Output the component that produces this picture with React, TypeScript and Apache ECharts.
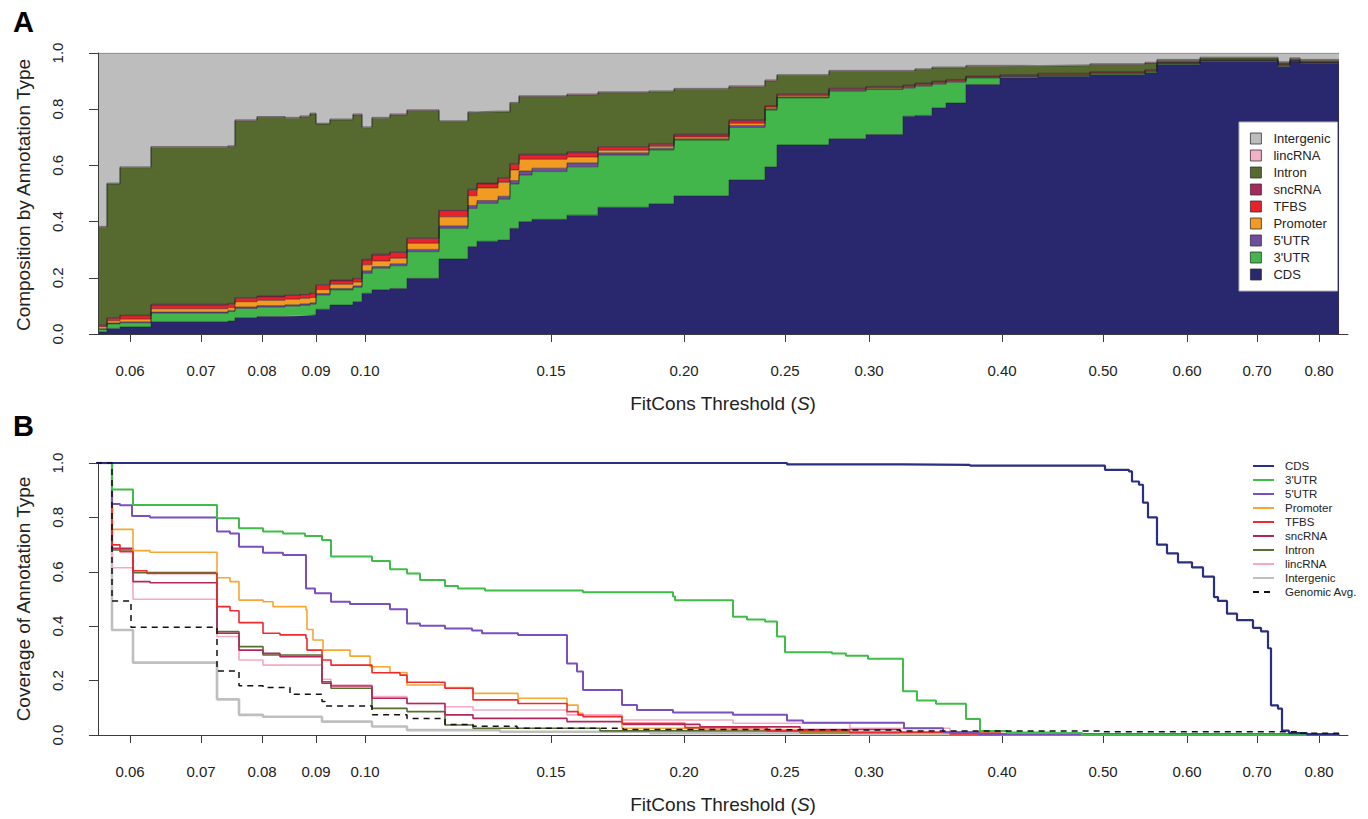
import React, { useEffect, useRef } from 'react';
import * as echarts from 'echarts';

// ---- x axis: genomic rank scale with FitCons threshold tick labels ----
const TICK_POS = [32, 103, 164, 218, 267, 453, 586, 687, 771, 904, 1005, 1089, 1159, 1221];
const TICK_LABELS = ['0.06', '0.07', '0.08', '0.09', '0.10', '0.15', '0.20', '0.25', '0.30', '0.40', '0.50', '0.60', '0.70', '0.80'];

// ---- Panel A: composition by annotation type (stacked fractions) ----
const RANK_A = [1, 9, 22, 53, 130, 137, 159, 187, 202, 212, 218, 232, 255, 264, 274, 292, 309, 341, 370, 379, 400, 412, 421, 434, 469, 500, 551, 576, 631, 667, 679, 731, 768, 805, 817, 834, 848, 868, 902, 940, 992, 1047, 1059, 1102, 1180, 1192, 1202, 1241];
const CDS_A = [.008, .020, .025, .043, .046, .058, .062, .064, .066, .068, .088, .103, .115, .145, .157, .162, .198, .267, .311, .330, .335, .376, .400, .408, .423, .451, .463, .491, .548, .595, .673, .695, .710, .775, .778, .805, .822, .888, .911, .917, .923, .930, .959, .970, .952, .968, .962, .962];
const UTR3_A = [.008, .016, .015, .031, .034, .033, .034, .035, .036, .038, .051, .054, .051, .071, .077, .081, .095, .109, .136, .135, .145, .158, .166, .170, .172, .186, .192, .199, .187, .202, .167, .169, .160, .100, .104, .084, .074, .023, .004, .003, .003, .003, .003, .002, .004, .002, .002, .002];
const UTR5_A = [.003, .003, .003, .004, .004, .005, .005, .005, .005, .005, .005, .005, .005, .009, .006, .007, .008, .009, .010, .010, .010, .012, .014, .012, .014, .008, .006, .005, .007, .005, .004, .003, .003, .003, .003, .003, .003, .002, .002, .002, .002, .002, .001, .001, .001, .001, .001, .001];
const PROM_A = [.007, .008, .010, .012, .010, .019, .019, .020, .020, .019, .014, .015, .014, .021, .020, .020, .022, .032, .035, .045, .050, .038, .042, .032, .021, .009, .007, .006, .008, .005, .004, .003, .003, .003, .003, .003, .002, .002, .002, .002, .002, .002, .001, .001, .002, .001, .001, .001];
const TFBS_A = [.005, .009, .012, .013, .012, .012, .012, .013, .013, .014, .015, .012, .012, .017, .021, .020, .017, .022, .020, .014, .014, .020, .015, .015, .015, .010, .007, .007, .009, .004, .005, .004, .003, .003, .003, .003, .003, .002, .002, .002, .002, .002, .002, .001, .002, .001, .001, .001];
const SNC_A = [.002, .002, .002, .003, .003, .003, .003, .003, .003, .003, .003, .003, .003, .003, .003, .003, .003, .003, .003, .003, .003, .003, .003, .003, .003, .003, .003, .003, .003, .002, .002, .002, .002, .002, .002, .002, .002, .002, .002, .002, .002, .002, .001, .001, .001, .001, .001, .001];
const INTRON_A = [.347, .476, .525, .558, .558, .629, .636, .628, .630, .636, .571, .570, .580, .468, .484, .487, .452, .314, .273, .253, .233, .214, .205, .205, .203, .192, .184, .160, .118, .088, .065, .059, .054, .049, .048, .047, .041, .034, .030, .027, .025, .023, .007, .006, .004, .006, .006, .006];
const LINC_A = [.003, .003, .003, .003, .003, .003, .003, .003, .003, .003, .003, .003, .003, .003, .003, .003, .003, .003, .003, .003, .003, .003, .003, .003, .003, .003, .003, .003, .003, .003, .003, .003, .003, .003, .003, .003, .003, .003, .003, .003, .003, .003, .003, .003, .003, .003, .003, .003];
const INTER_A = [.617, .463, .405, .333, .330, .238, .226, .229, .224, .214, .250, .235, .217, .263, .229, .217, .202, .241, .209, .207, .207, .176, .152, .152, .146, .138, .135, .126, .117, .096, .077, .062, .062, .062, .056, .050, .050, .044, .044, .042, .038, .033, .023, .015, .031, .017, .023, .023];

// ---- Panel B: coverage of annotation type, [rank, coverage] ----
const CDS_B = [[-13, 1], [689, 0.995], [806, 0.993], [872, 0.99], [1007, 0.975], [1031, 0.969], [1034, 0.932], [1041, 0.92], [1045, 0.854], [1050, 0.80], [1059, 0.70], [1069, 0.668], [1080, 0.635], [1094, 0.616], [1105, 0.582], [1116, 0.507], [1120, 0.493], [1129, 0.446], [1139, 0.422], [1155, 0.394], [1163, 0.381], [1170, 0.319], [1173, 0.109], [1180, 0.097], [1184, 0.016], [1191, 0.007], [1209, 0.002], [1241, 0.002]];
const UTR3_B = [[-13, 1], [14, 0.903], [35, 0.846], [119, 0.797], [141, 0.76], [165, 0.748], [185, 0.741], [207, 0.732], [224, 0.717], [233, 0.656], [274, 0.64], [292, 0.609], [309, 0.594], [322, 0.57], [347, 0.548], [360, 0.539], [387, 0.531], [485, 0.525], [575, 0.509], [577, 0.495], [635, 0.435], [649, 0.425], [667, 0.417], [679, 0.362], [687, 0.304], [734, 0.30], [748, 0.291], [770, 0.28], [805, 0.161], [819, 0.127], [838, 0.115], [868, 0.059], [882, 0.015], [909, 0.007], [984, 0.001], [1241, 0.001]];
const UTR5_B = [[-13, 1], [14, 0.849], [22, 0.845], [34, 0.805], [52, 0.80], [119, 0.748], [132, 0.741], [141, 0.692], [165, 0.67], [185, 0.662], [208, 0.539], [217, 0.521], [233, 0.49], [252, 0.482], [292, 0.462], [309, 0.41], [322, 0.402], [347, 0.392], [374, 0.384], [384, 0.374], [420, 0.368], [469, 0.263], [479, 0.233], [485, 0.165], [524, 0.11], [539, 0.092], [575, 0.083], [635, 0.074], [689, 0.053], [705, 0.045], [806, 0.025], [845, 0.01], [881, 0.003], [1241, 0.001]];
const PROM_B = [[-13, 1], [14, 0.756], [35, 0.678], [52, 0.672], [119, 0.578], [132, 0.564], [141, 0.496], [165, 0.49], [175, 0.472], [208, 0.46], [209, 0.388], [215, 0.349], [225, 0.312], [252, 0.29], [272, 0.251], [292, 0.23], [309, 0.184], [347, 0.174], [375, 0.153], [420, 0.135], [469, 0.11], [480, 0.08], [485, 0.071], [524, 0.025], [602, 0.02], [702, 0.012], [802, 0.006], [902, 0.002], [1241, 0.001]];
const TFBS_B = [[-13, 1], [14, 0.699], [22, 0.674], [35, 0.604], [49, 0.594], [119, 0.472], [132, 0.457], [141, 0.413], [165, 0.374], [182, 0.368], [208, 0.355], [209, 0.312], [224, 0.276], [233, 0.257], [274, 0.229], [302, 0.22], [309, 0.194], [347, 0.172], [375, 0.129], [420, 0.116], [469, 0.086], [480, 0.074], [485, 0.067], [524, 0.043], [587, 0.027], [669, 0.015], [752, 0.01], [852, 0.004], [1241, 0.001]];
const SNC_B = [[-13, 1], [14, 0.686], [35, 0.564], [52, 0.56], [119, 0.374], [141, 0.312], [165, 0.30], [182, 0.288], [224, 0.19], [233, 0.18], [274, 0.135], [309, 0.116], [347, 0.074], [375, 0.061], [469, 0.049], [524, 0.039], [602, 0.03], [702, 0.02], [802, 0.01], [902, 0.003], [1241, 0.001]];
const INTRON_B = [[-13, 1], [14, 0.68], [35, 0.597], [119, 0.38], [141, 0.325], [165, 0.294], [224, 0.196], [233, 0.172], [274, 0.098], [309, 0.086], [347, 0.037], [375, 0.025], [502, 0.015], [702, 0.008], [902, 0.003], [1241, 0.001]];
const LINC_B = [[-13, 1], [14, 0.615], [35, 0.499], [119, 0.362], [141, 0.276], [165, 0.257], [224, 0.205], [233, 0.184], [274, 0.141], [309, 0.116], [347, 0.104], [375, 0.092], [469, 0.074], [524, 0.055], [635, 0.043], [752, 0.025], [852, 0.012], [952, 0.004], [1241, 0.001]];
const INTER_B = [[-13, 1], [14, 0.386], [35, 0.266], [119, 0.131], [141, 0.074], [165, 0.067], [224, 0.049], [274, 0.031], [309, 0.018], [402, 0.012], [552, 0.007], [752, 0.003], [1241, 0.001]];
const GENOME_B = [[-13, 1], [14, 0.493], [33, 0.396], [119, 0.235], [141, 0.181], [165, 0.175], [192, 0.15], [224, 0.123], [227, 0.107], [274, 0.074], [309, 0.061], [347, 0.039], [375, 0.032], [419, 0.025], [525, 0.02], [669, 0.018], [802, 0.015], [1002, 0.012], [1202, 0.006], [1241, 0.006]];

const FONT = "'Liberation Sans', Arial, Helvetica, sans-serif";

export default function App() {
  const ref = useRef<HTMLDivElement>(null);
  useEffect(() => {
    const chart = echarts.init(ref.current!, null, { renderer: 'svg' });

    const areaNames = ['CDS', "3'UTR", "5'UTR", 'Promoter', 'TFBS', 'sncRNA', 'Intron', 'lincRNA', 'Intergenic'];
    const areaVals = [CDS_A, UTR3_A, UTR5_A, PROM_A, TFBS_A, SNC_A, INTRON_A, LINC_A, INTER_A];
    const areaColors = ['#29286f', '#42b64a', '#6e4c9e', '#f29b22', '#e8212a', '#a8285b', '#566a30', '#f4b0c6', '#bdbdbd'];

    // data stored as [fraction, rank] so the library stacks the fraction dimension
    const seriesA = areaNames.map((name, k) => ({
      name,
      type: 'line',
      step: 'end',
      stack: 'comp',
      xAxisIndex: 0,
      yAxisIndex: 0,
      encode: { x: 1, y: 0 },
      symbol: 'none',
      silent: true,
      color: areaColors[k],
      itemStyle: { color: areaColors[k] },
      lineStyle: { width: 0.7, color: 'rgba(35,35,35,0.75)' },
      areaStyle: { color: areaColors[k], opacity: 1 },
      data: RANK_A.map((x, i) => [areaVals[k][i], x]),
    }));

    // drawing order (bottom to top)
    const covDefs = [
      { name: 'Intergenic', data: INTER_B, color: '#bfbfbf', width: 2.6 },
      { name: 'lincRNA', data: LINC_B, color: '#f5a9c2', width: 1.6 },
      { name: 'Intron', data: INTRON_B, color: '#557030', width: 1.6 },
      { name: 'sncRNA', data: SNC_B, color: '#b2285d', width: 1.6 },
      { name: 'Promoter', data: PROM_B, color: '#f8a630', width: 1.6 },
      { name: 'TFBS', data: TFBS_B, color: '#ee2a2e', width: 1.6 },
      { name: "5'UTR", data: UTR5_B, color: '#7a4fbe', width: 2 },
      { name: "3'UTR", data: UTR3_B, color: '#3fbd48', width: 2 },
      { name: 'CDS', data: CDS_B, color: '#2b2f80', width: 2.2 },
      { name: 'Genomic Avg.', data: GENOME_B, color: '#111111', width: 1.5, dash: [6, 5] },
    ];
    const legendOrderB = ['CDS', "3'UTR", "5'UTR", 'Promoter', 'TFBS', 'sncRNA', 'Intron', 'lincRNA', 'Intergenic', 'Genomic Avg.'];
    const seriesB = covDefs.map((d) => ({
      name: 'B:' + d.name,
      type: 'line',
      step: 'end',
      xAxisIndex: 1,
      yAxisIndex: 1,
      symbol: 'none',
      silent: true,
      clip: false,
      color: d.color,
      itemStyle: { color: d.color },
      lineStyle: { width: d.width, color: d.color, type: d.dash ? d.dash : 'solid' },
      data: d.data,
    }));

    const axisColor = '#3c3c3c';
    const xAxisBase = (gridIndex: number, offset: number) => ({
      type: 'value',
      gridIndex,
      min: 0,
      max: 1250,
      offset,
      axisLine: { show: true, lineStyle: { color: axisColor, width: 1 } },
      axisTick: { show: true, customValues: TICK_POS, length: 8, lineStyle: { color: axisColor } },
      axisLabel: {
        customValues: TICK_POS,
        formatter: (v: number) => {
          const i = TICK_POS.indexOf(Math.round(v));
          return i >= 0 ? TICK_LABELS[i] : '';
        },
        fontSize: 15,
        fontFamily: FONT,
        color: '#222',
        margin: 20,
      },
      splitLine: { show: false },
    });
    const yAxisBase = (gridIndex: number) => ({
      type: 'value',
      gridIndex,
      min: 0,
      max: 1,
      interval: 0.2,
      offset: 13,
      axisLine: { show: true, lineStyle: { color: axisColor, width: 1 } },
      axisTick: { show: true, length: 9, lineStyle: { color: axisColor } },
      axisLabel: {
        rotate: 90,
        formatter: (v: number) => v.toFixed(1),
        fontSize: 15,
        fontFamily: FONT,
        color: '#222',
        margin: 20,
      },
      splitLine: { show: false },
    });

    const option = {
      animation: false,
      backgroundColor: '#ffffff',
      textStyle: { fontFamily: FONT },
      grid: [
        { left: 98, right: 20, top: 53, height: 281 },
        { left: 98, right: 20, top: 463, height: 272 },
      ],
      xAxis: [xAxisBase(0, 9), xAxisBase(1, 9)],
      yAxis: [yAxisBase(0), yAxisBase(1)],
      legend: [
        {
          data: ['Intergenic', 'lincRNA', 'Intron', 'sncRNA', 'TFBS', 'Promoter', "5'UTR", "3'UTR", 'CDS'],
          orient: 'vertical',
          left: 1239,
          top: 122,
          icon: 'rect',
          itemWidth: 11,
          itemHeight: 11,
          itemGap: 4,
          padding: [10, 7, 10, 11],
          backgroundColor: '#ffffff',
          borderColor: '#b0b0b0',
          borderWidth: 1,
          selectedMode: false,
          itemStyle: { borderColor: '#333', borderWidth: 0.8 },
          textStyle: { fontSize: 13, lineHeight: 13, color: '#222', fontFamily: FONT, padding: [0, 0, 0, 7] },
        },
        {
          data: legendOrderB.map((n) => 'B:' + n),
          orient: 'vertical',
          left: 1252,
          top: 460,
          itemWidth: 21,
          itemHeight: 10,
          itemGap: 2,
          padding: 0,
          selectedMode: false,
          itemStyle: { opacity: 0 },
          formatter: (n: string) => n.replace('B:', ''),
          textStyle: { fontSize: 11.5, lineHeight: 12, color: '#222', fontFamily: FONT, padding: [0, 0, 0, 6] },
        },
      ],
      graphic: [
        { type: 'text', x: 13, y: 22, style: { text: 'A', font: `bold 29px ${FONT}`, fill: '#000', verticalAlign: 'middle' } },
        { type: 'text', x: 13, y: 426, style: { text: 'B', font: `bold 29px ${FONT}`, fill: '#000', verticalAlign: 'middle' } },
        {
          type: 'text', x: 23, y: 195, rotation: Math.PI / 2,
          style: { text: 'Composition by Annotation Type', font: `19px ${FONT}`, fill: '#222', align: 'center', verticalAlign: 'middle' },
        },
        {
          type: 'text', x: 23, y: 599, rotation: Math.PI / 2,
          style: { text: 'Coverage of Annotation Type', font: `19px ${FONT}`, fill: '#222', align: 'center', verticalAlign: 'middle' },
        },
        {
          type: 'text', x: 723, y: 403,
          style: {
            text: 'FitCons Threshold ({i|S})', font: `19px ${FONT}`, fill: '#222', align: 'center', verticalAlign: 'middle',
            rich: { i: { fontStyle: 'italic', fontSize: 19, fontFamily: FONT, fill: '#222' } },
          },
        },
        {
          type: 'text', x: 723, y: 804,
          style: {
            text: 'FitCons Threshold ({i|S})', font: `19px ${FONT}`, fill: '#222', align: 'center', verticalAlign: 'middle',
            rich: { i: { fontStyle: 'italic', fontSize: 19, fontFamily: FONT, fill: '#222' } },
          },
        },
      ],
      series: [...seriesA, ...seriesB],
    };

    chart.setOption(option as any);
    return () => chart.dispose();
  }, []);

  return (
    <div
      ref={ref}
      style={{ position: 'fixed', left: 0, top: 0, width: 1368, height: 819, background: '#fff' }}
    />
  );
}
